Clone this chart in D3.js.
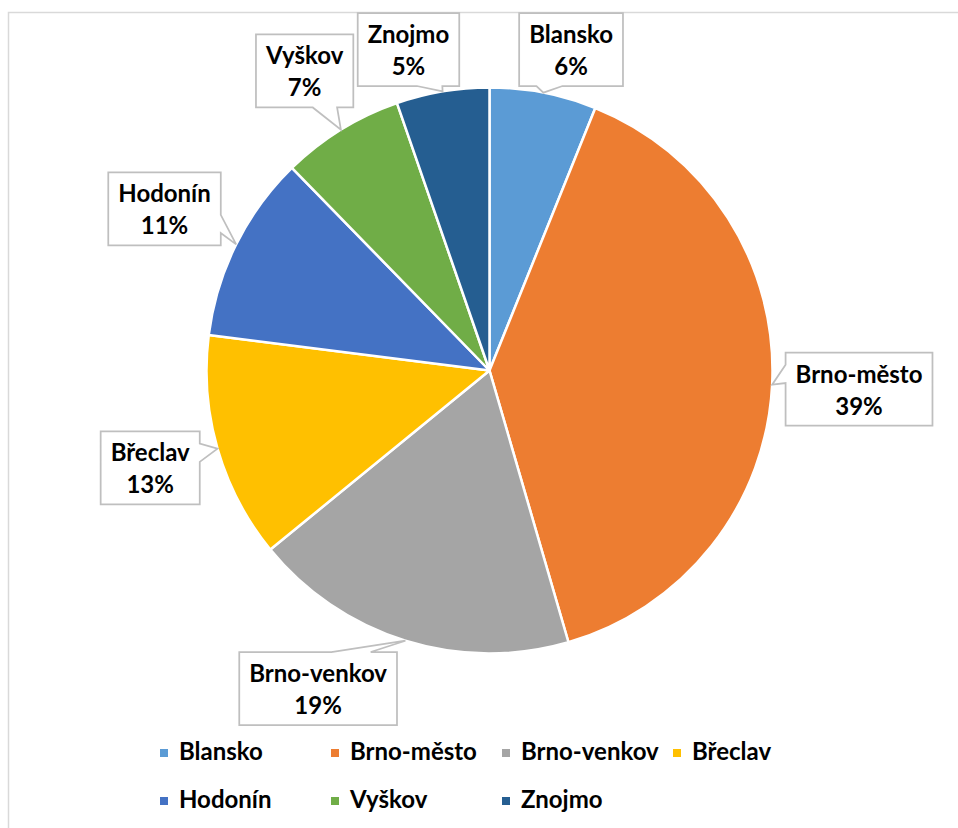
<!DOCTYPE html>
<html>
<head>
<meta charset="utf-8">
<script src="https://cdn.jsdelivr.net/npm/d3@7"></script>
<style>
  html, body { margin: 0; padding: 0; background: #fff; }
  svg { display: block; font-family: Lato, "Open Sans", sans-serif; font-weight: bold; }
</style>
</head>
<body>
<svg id="chart" width="958" height="828"></svg>
<script>
// Data
const districts = ["Blansko", "Brno-město", "Brno-venkov", "Břeclav", "Hodonín", "Vyškov", "Znojmo"];
const shares = [6.1, 39.4, 18.6, 12.9, 10.7, 7.0, 5.3];
const sliceColors = ["#5B9BD5", "#ED7D31", "#A5A5A5", "#FFC000", "#4472C4", "#70AD47", "#255E91"];

let data = districts.map((name, i) => ({ name: name, value: shares[i] }));
let total = d3.sum(shares);

let cx = 489.5, cy = 370.5, radius = 283;
let fontSize = 24;

let svg = d3.select('#chart');

// Chart area border (runs off the right / bottom of the picture)
svg.append('rect')
  .attr('x', 8.5)
  .attr('y', 12.5)
  .attr('width', 980)
  .attr('height', 840)
  .attr('fill', '#fff')
  .attr('stroke', '#d9d9d9')
  .attr('stroke-width', 1.5);

let color = d3.scaleOrdinal()
  .domain(districts)
  .range(sliceColors);

let pie = d3.pie()
  .sort(null)
  .value(d => d.value);

let arc = d3.arc()
  .innerRadius(0)
  .outerRadius(radius);

let edgeArc = d3.arc()
  .innerRadius(radius)
  .outerRadius(radius);

let arcs = pie(data);

let pieG = svg.append('g')
  .attr('transform', `translate(${cx},${cy})`);

pieG.selectAll('path')
  .data(arcs)
  .enter()
  .append('path')
  .attr('d', arc)
  .attr('fill', d => color(d.data.name))
  .attr('stroke', '#fff')
  .attr('stroke-width', 2.5)
  .attr('stroke-linejoin', 'round');

// Callout boxes
function boxDist(x0, y0, w, h) {
  // distance from pie centre to the nearest point of a box
  let nx = Math.max(x0, Math.min(cx, x0 + w));
  let ny = Math.max(y0, Math.min(cy, y0 + h));
  return Math.hypot(nx - cx, ny - cy);
}

function calloutPath(x0, y0, w, h, px, py) {
  let x1 = x0 + w, y1 = y0 + h;
  let mx = x0 + w / 2, my = y0 + h / 2;
  let dx = px - mx, dy = py - my;
  let vertical = Math.abs(dy) > Math.abs(dx * h / w);
  let side = vertical ? (dy < 0 ? 'top' : 'bottom') : (dx < 0 ? 'left' : 'right');
  let fx = px > mx ? [7 / 12, 10 / 12] : [2 / 12, 5 / 12];
  let fy = py > my ? [7 / 12, 10 / 12] : [2 / 12, 5 / 12];
  let p = d3.path();
  p.moveTo(x0, y0);
  if (side == 'top') {
    p.lineTo(x0 + w * fx[0], y0); p.lineTo(px, py); p.lineTo(x0 + w * fx[1], y0);
  }
  p.lineTo(x1, y0);
  if (side == 'right') {
    p.lineTo(x1, y0 + h * fy[0]); p.lineTo(px, py); p.lineTo(x1, y0 + h * fy[1]);
  }
  p.lineTo(x1, y1);
  if (side == 'bottom') {
    p.lineTo(x0 + w * fx[1], y1); p.lineTo(px, py); p.lineTo(x0 + w * fx[0], y1);
  }
  p.lineTo(x0, y1);
  if (side == 'left') {
    p.lineTo(x0, y0 + h * fy[1]); p.lineTo(px, py); p.lineTo(x0, y0 + h * fy[0]);
  }
  p.closePath();
  return p.toString();
}

let labelG = svg.append('g').attr('class', 'labels');
let boxH = 73, pad = 10, gap = 13;
let topLimit = 13, bottomLimit = 725;

arcs.forEach(d => {
  let pct = Math.round(d.data.value / total * 100) + '%';
  let g = labelG.append('g');
  let path = g.append('path')
    .attr('fill', '#fff')
    .attr('stroke', '#bfbfbf')
    .attr('stroke-width', 1.75);
  let t1 = g.append('text').text(d.data.name)
    .attr('text-anchor', 'middle').style('font-size', fontSize + 'px');
  let t2 = g.append('text').text(pct)
    .attr('text-anchor', 'middle').style('font-size', fontSize + 'px');
  let w = Math.max(t1.node().getComputedTextLength(), t2.node().getComputedTextLength()) + pad * 2;
  let h = boxH;

  let mid = (d.startAngle + d.endAngle) / 2;
  let ux = Math.sin(mid), uy = -Math.cos(mid);
  // push box out along the ray until it clears the pie
  let dist = radius;
  let bx, by;
  do {
    dist += 1;
    bx = cx + ux * dist - w / 2;
    by = cy + uy * dist - h / 2;
  } while (boxDist(bx, by, w, h) < radius + gap);

  // keep inside the plot area, then slide sideways to clear the pie again
  let slideGap = null;
  if (by < topLimit) { by = topLimit; slideGap = 3; }
  if (by + h > bottomLimit) { by = bottomLimit - h; slideGap = gap; }
  if (slideGap !== null) {
    let sx = ux >= 0 ? 1 : -1;
    while (boxDist(bx, by, w, h) < radius + slideGap) bx += sx;
  }

  let tip = edgeArc.centroid(d);
  path.attr('d', calloutPath(bx, by, w, h, cx + tip[0], cy + tip[1]));
  t1.attr('x', bx + w / 2).attr('y', by + 30);
  t2.attr('x', bx + w / 2).attr('y', by + 62);
});

// Legend
let legendLeft = 160, colW = 171, rowH = 48, legendTop = 760;
let legend = svg.append('g').attr('class', 'legend');

let items = legend.selectAll('g')
  .data(districts)
  .enter()
  .append('g')
  .attr('transform', (d, i) => `translate(${legendLeft + (i % 4) * colW},${legendTop + Math.floor(i / 4) * rowH})`);

items.append('rect')
  .attr('x', 0)
  .attr('y', -11)
  .attr('width', 8)
  .attr('height', 8)
  .attr('fill', d => color(d));

items.append('text')
  .attr('x', 19)
  .attr('y', 0)
  .style('font-size', fontSize + 'px')
  .text(d => d);
</script>
</body>
</html>
